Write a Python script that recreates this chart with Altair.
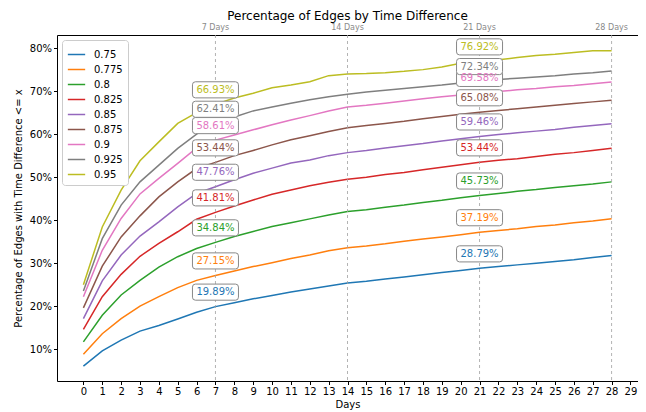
import altair as alt
import pandas as pd

days = list(range(29))
thresholds = ["0.75", "0.775", "0.8", "0.825", "0.85", "0.875", "0.9", "0.925", "0.95"]
colors = ["#1f77b4", "#ff7f0e", "#2ca02c", "#d62728", "#9467bd", "#8c564b", "#e377c2", "#7f7f7f", "#bcbd22"]

s_075 = [6.05, 9.6, 12.1, 14.2, 15.5, 17.0, 18.6, 19.89, 20.8, 21.7, 22.5, 23.3, 24.0, 24.7, 25.4,
         25.8, 26.3, 26.8, 27.3, 27.8, 28.3, 28.79, 29.2, 29.6, 30.0, 30.4, 30.8, 31.3, 31.8]
s_0775 = [8.8, 13.6, 17.1, 20.0, 22.2, 24.3, 26.0, 27.15, 28.2, 29.2, 30.1, 31.1, 31.9, 32.9, 33.6,
          34.0, 34.5, 35.1, 35.6, 36.1, 36.6, 37.19, 37.6, 38.0, 38.5, 38.9, 39.4, 39.8, 40.3]
s_08 = [11.7, 17.9, 22.6, 26.0, 29.1, 31.5, 33.4, 34.84, 36.2, 37.35, 38.5, 39.4, 40.3, 41.2, 42.0,
        42.4, 43.0, 43.5, 44.1, 44.6, 45.2, 45.73, 46.2, 46.7, 47.1, 47.6, 48.0, 48.4, 48.9]
s_0825 = [14.6, 22.2, 27.4, 31.6, 34.6, 37.3, 40.2, 41.81, 43.3, 44.7, 46.0, 47.0, 48.0, 48.8, 49.5,
          50.0, 50.6, 51.1, 51.7, 52.3, 52.9, 53.44, 53.9, 54.3, 54.8, 55.3, 55.7, 56.2, 56.7]
s_085 = [17.1, 25.9, 31.9, 36.3, 39.6, 43.1, 46.2, 47.76, 49.4, 50.9, 52.1, 53.3, 54.0, 55.0, 55.7,
         56.2, 56.8, 57.3, 57.8, 58.4, 58.9, 59.46, 59.9, 60.3, 60.7, 61.1, 61.6, 62.0, 62.4]
s_0875 = [19.6, 29.3, 36.1, 41.0, 45.4, 48.9, 52.0, 53.44, 55.0, 56.2, 57.5, 58.7, 59.6, 60.6, 61.5,
          62.0, 62.5, 63.0, 63.6, 64.1, 64.6, 65.08, 65.5, 65.9, 66.3, 66.7, 67.1, 67.5, 67.9]
s_09 = [22.2, 33.0, 40.4, 46.1, 49.7, 53.2, 56.8, 58.61, 59.8, 61.0, 62.2, 63.3, 64.3, 65.4, 66.3,
        66.7, 67.2, 67.7, 68.2, 68.7, 69.1, 69.58, 69.9, 70.3, 70.6, 71.0, 71.3, 71.7, 72.1]
s_0925 = [23.5, 35.7, 43.5, 48.9, 52.8, 56.7, 60.0, 62.41, 64.0, 65.4, 66.3, 67.2, 68.0, 68.7, 69.3,
          69.8, 70.2, 70.6, 71.0, 71.4, 71.9, 72.34, 72.7, 73.0, 73.3, 73.6, 74.0, 74.3, 74.7]
s_095 = [25.0, 38.4, 47.0, 53.8, 58.2, 62.5, 65.0, 66.93, 68.4, 69.5, 70.8, 71.4, 72.2, 73.6, 74.0,
         74.1, 74.3, 74.6, 75.0, 75.6, 76.5, 76.92, 77.3, 77.8, 78.3, 78.6, 79.0, 79.4, 79.4]

series = [s_075, s_0775, s_08, s_0825, s_085, s_0875, s_09, s_0925, s_095]

label_days = [7, 21]
week_days = [7, 14, 21, 28]
week_labels = ["7 Days", "14 Days", "21 Days", "28 Days"]
y_ticks = [10, 20, 30, 40, 50, 60, 70, 80]
x_ticks = list(range(30))

rows = []
for t, vals in zip(thresholds, series):
    for d, v in zip(days, vals):
        rows.append({"day": d, "value": v, "threshold": t})
df = pd.DataFrame(rows)

lab_rows = []
for t, vals in zip(thresholds, series):
    for d in label_days:
        lab_rows.append({"day": d, "value": vals[d], "threshold": t, "text": f"{vals[d]:.2f}%"})
lab_df = pd.DataFrame(lab_rows)

week_df = pd.DataFrame({"day": week_days, "label": week_labels})

FONT = "DejaVu Sans"
xscale = alt.Scale(domain=[-1.4, 29.4], nice=False, zero=False)
yscale = alt.Scale(domain=[2.6, 83.05], nice=False, zero=False)
cscale = alt.Scale(domain=thresholds, range=colors)

x_axis = alt.Axis(values=x_ticks, title="Days", grid=False, domain=False,
                  tickColor="black", tickSize=3.5, labelPadding=2,
                  labelFontSize=10, labelFont=FONT, labelColor="black",
                  labelOverlap=False, labelFlush=False,
                  titleFont=FONT, titleFontSize=10, titleFontWeight="normal",
                  titleColor="black", titlePadding=3, format="d")
y_axis = alt.Axis(values=y_ticks, labelExpr="datum.value + '%'",
                  title="Percentage of Edges with Time Difference <= x",
                  grid=False, domain=False, tickColor="black", tickSize=3.5,
                  labelPadding=2, labelFontSize=10, labelFont=FONT,
                  labelColor="black", labelOverlap=False,
                  titleFont=FONT, titleFontSize=10,
                  titleFontWeight="normal", titleColor="black", titlePadding=6)


def X():
    return alt.X("day:Q", scale=xscale, axis=x_axis)


def Y():
    return alt.Y("value:Q", scale=yscale, axis=y_axis)


lines = alt.Chart(df).mark_line(strokeWidth=1.5).encode(
    x=X(),
    y=Y(),
    color=alt.Color("threshold:N", scale=cscale, sort=thresholds,
                    legend=alt.Legend(title=None, orient="none", legendX=5, legendY=5,
                                      symbolType="stroke", symbolStrokeWidth=1.5,
                                      symbolSize=300, labelFont=FONT, labelFontSize=10,
                                      labelColor="black", rowPadding=0,
                                      strokeColor="#cccccc", fillColor="white",
                                      padding=5, cornerRadius=3, labelOffset=8)),
)

rules = alt.Chart(week_df).mark_rule(strokeDash=[3, 3], color="#a0a0a0", strokeWidth=0.8).encode(
    x=X()
)

week_text = alt.Chart(week_df).mark_text(fontSize=8, font=FONT, color="#8a8a8a", baseline="bottom").encode(
    x=X(),
    y=alt.value(-3),
    text="label:N",
)

box_path = ("M-0.87,-0.35 Q-1,-0.35 -1,-0.22 V0.22 Q-1,0.35 -0.87,0.35 H0.87 "
            "Q1,0.35 1,0.22 V-0.22 Q1,-0.35 0.87,-0.35 Z")
boxes = alt.Chart(lab_df).mark_point(shape=box_path, size=2116, filled=True, fill="white",
                                     stroke="#888888", strokeWidth=1, opacity=1,
                                     yOffset=-14.5).encode(
    x=X(),
    y=Y(),
)

texts = alt.Chart(lab_df).mark_text(fontSize=10, font=FONT, dy=-14.5, baseline="middle").encode(
    x=X(),
    y=Y(),
    text="text:N",
    color=alt.Color("threshold:N", scale=cscale, legend=None),
)

chart = alt.layer(lines, rules, boxes, texts, week_text).properties(
    width=581, height=346,
    title=alt.TitleParams("Percentage of Edges by Time Difference", font=FONT, fontSize=12,
                          fontWeight="normal", color="black", offset=1),
    autosize=alt.AutoSizeParams(type="none"),
    padding={"left": 49, "top": 27, "right": 0, "bottom": 31},
).configure_view(stroke="black", strokeWidth=1)

chart.save("out.html", embed_options={"renderer": "svg", "actions": False})
